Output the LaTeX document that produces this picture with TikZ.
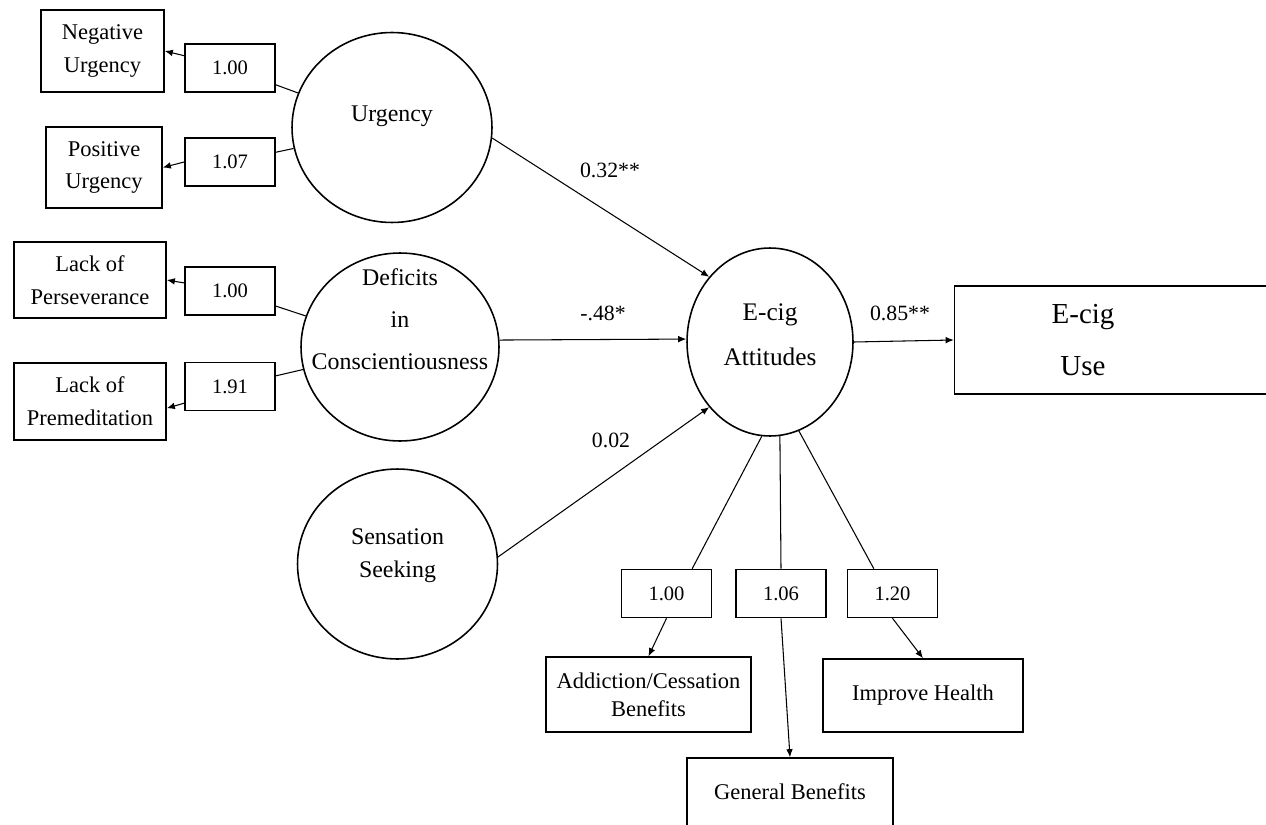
\documentclass[tikz,border=0pt]{standalone}
\usepackage{fontspec}
\setmainfont{Liberation Serif}
\usepackage{tikz}
\usetikzlibrary{shapes}
\usetikzlibrary{arrows.meta}
\tikzstyle{arrow}=[-{Latex[length=4.6pt,width=3.8pt]}]
\tikzstyle{box}=[rectangle,draw,line width=0.9pt,align=center,font=\fontsize{12.8}{18.7}\selectfont]
\tikzstyle{loading}=[box,minimum width=1.8cm,minimum height=0.96cm,font=\fontsize{11.7}{14}\selectfont]
\tikzstyle{latent}=[ellipse,draw,line width=0.9pt,minimum width=4cm,minimum height=3.8cm]
\tikzstyle{lat}=[align=center,font=\fontsize{13.6}{18.7}\selectfont]
\tikzstyle{coef}=[font=\fontsize{12.4}{14}\selectfont]
\tikzset{every picture/.style={
    line width=0.6pt
  }
}

\begin{document}
\begin{tikzpicture}[x=0.02cm,y=-0.02cm]
      \useasboundingbox (0,0) rectangle (1266,824);
      % indicators of the impulsivity factors
      \node[box,minimum width=2.46cm,minimum height=1.64cm] at (102.5,51) (neg) {Negative\\Urgency};
      \node[box,minimum width=2.32cm,minimum height=1.62cm] at (104,167.5) (pos) {Positive\\Urgency};
      \node[box,minimum width=3.04cm,minimum height=1.52cm] at (90,280) (pers) {Lack of\\Perseverance};
      \node[box,minimum width=3.04cm,minimum height=1.54cm] at (90,401.5) (prem) {Lack of\\Premeditation};
      \node[loading] at (230,68) (nu) {1.00};
      \node[loading] at (230,162) (pu) {1.07};
      \node[loading] at (230,291) (lp) {1.00};
      \node[loading] at (230,386.5) (lm) {1.91};
      % latent factors
      \node[latent,label={[lat,yshift=0.22cm]center:Urgency}] at (392,127.5) (urg) {};
      \node[latent,minimum width=3.96cm,minimum height=3.76cm,label={[lat,font=\fontsize{13.6}{24}\selectfont,yshift=0.56cm]center:Deficits\\in\\Conscientiousness}] at (400,347) (def) {};
      \node[latent,label={[lat,yshift=0.16cm]center:Sensation\\Seeking}] at (397.5,564) (sens) {};
      \node[latent,minimum width=3.32cm,minimum height=3.76cm,label={[lat,font=\fontsize{14.4}{25.5}\selectfont,yshift=0.15cm]center:E-cig\\Attitudes}] at (770,342) (att) {};
      \node[box,minimum width=6.7cm,minimum height=2.16cm,label={[align=center,font=\fontsize{16.5}{30}\selectfont,xshift=-0.78cm]center:E-cig\\Use}] at (1122,340) (use) {};
      % indicators of attitudes
      \node[loading] at (666.5,593.5) (ab) {1.00};
      \node[loading] at (781,593.5) (gb) {1.06};
      \node[loading] at (892.5,593.5) (ib) {1.20};
      \node[box,minimum width=4.1cm,minimum height=1.5cm,font=\fontsize{12.8}{16}\selectfont] at (648.5,694.5) (acb) {Addiction/Cessation\\Benefits};
      \node[box,minimum width=4cm,minimum height=1.46cm] at (923,695.5) (ih) {Improve Health};
      \node[box,minimum width=4.12cm,minimum height=1.36cm] at (790,792) (gen) {General Benefits};
      % measurement part
      \draw (urg) -- (nu);
      \draw (urg) -- (pu);
      \draw (def) -- (lp);
      \draw (def) -- (lm);
      \draw[arrow] (nu.165) -- (neg.east);
      \draw[arrow] (pu.west) -- (pos.east);
      \draw[arrow] (lp.170) -- (pers.east);
      \draw[arrow] (lm.200) -- (prem.-5);
      \draw (att.-95) -- (ab.44);
      \draw (att.-84) -- (gb.north);
      \draw (att.-72) -- (ib.127);
      \draw[arrow] (ab.south) -- (acb.north);
      \draw[arrow] (gb.south) -- (gen.north);
      \draw[arrow] (ib.south) -- (ih.north);
      % structural part
      \draw[arrow] (urg.-6) -- (att.133);
      \draw[arrow] (def.4) -- (att.178);
      \draw[arrow] (sens.4) -- (att.227);
      \draw[arrow] (att.east) -- (use.west);
      \node[coef] at (610,170) (c1) {0.32**};
      \node[coef] at (603,313) (c2) {-.48*};
      \node[coef] at (611,440) (c3) {0.02};
      \node[coef] at (900,313) (c4) {0.85**};
    \end{tikzpicture}
\end{document}
